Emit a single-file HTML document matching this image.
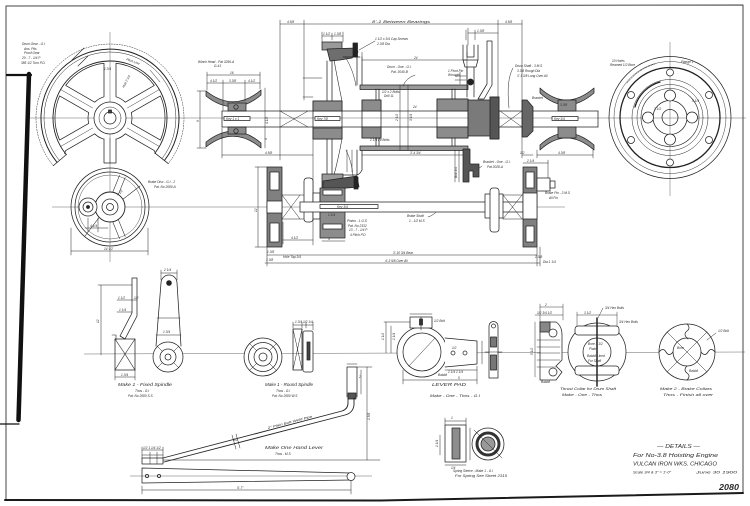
<!DOCTYPE html>
<html><head><meta charset="utf-8"><title>Details - No 3.8 Hoisting Engine</title>
<style>
html,body{margin:0;padding:0;background:#fff;width:750px;height:506px;overflow:hidden}
svg{display:block}
text{font-family:"Liberation Sans",sans-serif;font-style:italic;fill:#2a2a2a;stroke:none}
.t{font-size:3.2px}
.s{font-size:3.8px}
.m{font-size:4.6px}
</style></head><body>
<svg width="750" height="506" viewBox="0 0 750 506" xmlns="http://www.w3.org/2000/svg">
<rect width="750" height="506" fill="#fff"/>

<!-- centre lines -->
<g stroke="#666" stroke-width="0.5" fill="none">
<line x1="30" y1="118" x2="746" y2="118"/>
<line x1="110" y1="32" x2="110" y2="262"/>
<line x1="52" y1="207" x2="565" y2="207"/>
<line x1="84" y1="354" x2="745" y2="352"/>
<line x1="670" y1="42" x2="670" y2="196"/>
<line x1="130" y1="476" x2="372" y2="476"/>
</g>

<g fill="none" stroke="#222" stroke-width="0.75" stroke-linejoin="round" stroke-linecap="round">

<!-- border -->
<polyline points="6,500 6,6 743,5 743,493" stroke="#444" stroke-width="1"/>
<polyline points="5,500 380,500.5 743,493" stroke="#1a1a1a" stroke-width="2"/>
<line x1="7" y1="75" x2="31" y2="75" stroke="#111" stroke-width="2.2"/>
<line x1="29" y1="74" x2="18.5" y2="420" stroke="#111" stroke-width="4.5"/>
<line x1="0" y1="424" x2="19" y2="424" stroke="#111" stroke-width="1.2"/>

<!-- ===== big drum gear ===== -->
<path d="M53.3,165.6 A74,74 0 1 1 168.3,163.6" stroke-dasharray="1.4 1.2" stroke-width="0.5"/>
<path d="M57.1,162.4 A69,69 0 1 1 164.4,160.5" stroke-width="1"/>
<path d="M59.4,160.4 A66,66 0 1 1 162.0,158.6" stroke-width="0.5"/>
<path d="M66.3,154.6 A57,57 0 1 1 154.9,153.1" stroke-width="0.9"/>
<line x1="66.3" y1="154.6" x2="53.3" y2="165.6"/>
<line x1="154.9" y1="153.1" x2="168.3" y2="163.6"/>
<path d="M94.7,102.2 L65.7,85.4 A55,55 0 0 1 104,63.3 L104,96.8 A22,22 0 0 0 94.7,102.2 Z"/>
<path d="M116,96.8 L116,63.3 A55,55 0 0 1 154.3,85.4 L125.3,102.2 A22,22 0 0 0 116,96.8 Z"/>
<path d="M131.3,112.6 L160.4,95.9 A55,55 0 0 1 160.4,140.1 L131.3,123.4 A22,22 0 0 0 131.3,112.6 Z"/>
<path d="M88.7,123.4 L59.6,140.1 A55,55 0 0 1 59.6,95.9 L88.7,112.6 A22,22 0 0 0 88.7,123.4 Z"/>
<polyline points="125.3,133.8 154.3,150.6 155.5,153.5"/>
<polyline points="94.7,133.8 65.7,150.6 64.5,153.5"/>
<path d="M125.3,133.8 A22,22 0 0 1 116,139.2 M104,139.2 A22,22 0 0 1 94.7,133.8"/>
<polyline points="104,139 104,163 116,163 116,139"/>
<g stroke-width="0.45">
<line x1="127.3" y1="108" x2="159.4" y2="89.5"/>
<line x1="127.3" y1="128" x2="159.4" y2="146.5"/>
<line x1="92.7" y1="128" x2="60.6" y2="146.5"/>
<line x1="92.7" y1="108" x2="60.6" y2="89.5"/>
<line x1="110" y1="138" x2="110" y2="163"/>
</g>
<circle cx="110" cy="118" r="16" fill="#fff"/>
<circle cx="110" cy="118" r="11" stroke-width="0.5"/>
<circle cx="110" cy="118" r="6"/>
<rect x="108.5" y="110" width="3" height="3" fill="#444"/>
<path d="M72,60 L84,48 M78,66 L88,56" stroke-width="0.6"/>
<line x1="150" y1="70" x2="160" y2="82" stroke-width="0.5"/>

<!-- ===== small brake disc ===== -->
<circle cx="110" cy="207" r="39"/>
<circle cx="110" cy="207" r="35"/>
<circle cx="110" cy="207" r="32" stroke-width="0.4"/>
<g stroke-width="0.55">
<line x1="118.4" y1="194.2" x2="125.2" y2="177.5"/>
<line x1="112.8" y1="192.0" x2="119.6" y2="175.3"/>
<line x1="118.4" y1="219.8" x2="125.2" y2="236.5"/>
<line x1="112.8" y1="222.0" x2="119.6" y2="238.7"/>
<line x1="101" y1="215" x2="85" y2="236"/>
<line x1="122" y1="200" x2="140" y2="186"/>
</g>
<circle cx="110" cy="207" r="15" fill="#fff" stroke-width="0.9"/>
<circle cx="110" cy="207" r="8"/>
<circle cx="110" cy="207" r="3.5"/>
<circle cx="88" cy="207" r="9" fill="#fff"/>
<circle cx="88" cy="207" r="5"/>
<circle cx="88" cy="207" r="1.5" fill="#222"/>
<g stroke-width="0.5">
<line x1="71" y1="228" x2="71" y2="255"/>
<line x1="148" y1="228" x2="148" y2="255"/>
<line x1="71" y1="251" x2="148" y2="251"/>
<line x1="88" y1="218" x2="88" y2="232"/>
<line x1="98" y1="218" x2="98" y2="232"/>
<line x1="85" y1="228" x2="108" y2="228"/>
</g>

<!-- ===== left winch head ===== -->
<path d="M206,91 Q234,113 261,90 L261,95 Q234,118 206,96 Z" fill="#8c8c8c"/>
<path d="M206,147 Q234,125 261,148 L261,143 Q234,120 206,142 Z" fill="#8c8c8c"/>
<rect x="228" y="103" width="18" height="8" fill="#8c8c8c"/>
<rect x="228" y="127" width="18" height="7" fill="#8c8c8c"/>
<circle cx="236" cy="107" r="2.2"/>
<circle cx="236" cy="131" r="2.2"/>
<g stroke-width="0.5">
<line x1="207" y1="72" x2="207" y2="90"/>
<line x1="260" y1="72" x2="260" y2="89"/>
<line x1="223" y1="80" x2="223" y2="110"/>
<line x1="245" y1="80" x2="245" y2="101"/>
<line x1="207" y1="75" x2="260" y2="75"/>
<line x1="207" y1="83" x2="260" y2="83"/>
<line x1="200" y1="91" x2="200" y2="148"/>
<line x1="197" y1="91" x2="206" y2="91"/>
<line x1="197" y1="148" x2="206" y2="148"/>
<line x1="265" y1="88" x2="265" y2="148"/>
<line x1="222" y1="128" x2="222" y2="158"/>
<line x1="222" y1="155" x2="313" y2="155"/>
<line x1="313" y1="137" x2="313" y2="245"/>
</g>

<!-- ===== main shaft ===== -->
<line x1="222" y1="111" x2="598" y2="111"/>
<line x1="222" y1="127" x2="598" y2="127"/>
<line x1="222" y1="111" x2="222" y2="127"/>
<line x1="598" y1="111" x2="598" y2="127"/>
<rect x="224" y="116.5" width="26" height="4" fill="#fff"/>
<g stroke-width="0.5">
<line x1="280" y1="111" x2="308" y2="127"/>
<line x1="280" y1="127" x2="308" y2="111"/>
<line x1="500" y1="111" x2="522" y2="127"/>
<line x1="500" y1="127" x2="522" y2="111"/>
</g>

<!-- ===== drum gear section ===== -->
<rect x="322" y="42" width="20" height="8" fill="#9a9a9a"/>
<path d="M327,49 L356,48 L358,52 L352,58 L340,60 L330,61 Z" fill="#6e6e6e"/>
<rect x="353" y="43" width="4.5" height="14" fill="#222"/>
<line x1="327" y1="61" x2="327" y2="101"/>
<line x1="332" y1="61" x2="332" y2="101"/>
<path d="M334,60 Q338,82 342,101" stroke-width="0.6"/>
<path d="M346,58 Q354,72 356,86" stroke-width="0.5"/>
<rect x="313" y="101" width="29" height="38"/>
<rect x="313" y="101" width="29" height="10" fill="#8c8c8c"/>
<rect x="313" y="128" width="29" height="11" fill="#8c8c8c"/>
<rect x="315" y="116.5" width="25" height="4" fill="#fff"/>
<line x1="327" y1="139" x2="327" y2="175"/>
<line x1="332" y1="139" x2="332" y2="175"/>
<path d="M342,139 Q338,160 334,175" stroke-width="0.6"/>
<path d="M346,150 Q352,162 353,176" stroke-width="0.5"/>
<rect x="322" y="174" width="21" height="14" fill="#9a9a9a"/>
<path d="M323,181 L357,176 L359,187 L323,190 Z" fill="#555"/>
<rect x="354" y="177" width="4" height="12" fill="#222"/>
<!-- drum end walls -->
<path d="M343,57 L360,57 M357,57 L357,85 M362,57 L362,85"/>
<path d="M343,175 L357,175 M357,150 L357,175 M362,150 L362,170 Q360,174 357,175"/>
<!-- drum shell -->
<rect x="360" y="85" width="108" height="4.5" fill="#9a9a9a"/>
<rect x="360" y="146" width="108" height="4.5" fill="#9a9a9a"/>
<rect x="362" y="100" width="19" height="38"/>
<rect x="362" y="100" width="19" height="11" fill="#8c8c8c"/>
<rect x="362" y="127" width="19" height="11" fill="#8c8c8c"/>
<path d="M376,89 L376,100 M379,89 L379,100 M376,138 L376,146 M379,138 L379,146"/>
<rect x="437" y="99" width="31" height="39"/>
<rect x="437" y="99" width="31" height="12" fill="#8c8c8c"/>
<rect x="437" y="127" width="31" height="11" fill="#8c8c8c"/>
<path d="M452,89 L452,99 M455,89 L455,99 M452,138 L452,146 M455,138 L455,146"/>
<g stroke-width="0.5">
<line x1="400" y1="85" x2="400" y2="150"/>
<line x1="408" y1="85" x2="408" y2="150"/>
<line x1="362" y1="60" x2="467" y2="60"/>
<line x1="362" y1="155" x2="470" y2="155"/>
<line x1="362" y1="52" x2="362" y2="57"/>
<line x1="467" y1="52" x2="467" y2="85"/>
</g>

<!-- clutch and lever -->
<path d="M468,100 L490,100 L490,97 L499,97 L499,139 L490,139 L490,136 L468,136 Z" fill="#7a7a7a"/>
<rect x="490" y="97" width="9" height="42" fill="#555"/>
<path d="M478,99 L484,99 L492,85 L492,41 L487,41 L487,84 Z" fill="#fff"/>
<path d="M463,45 L463,60 L478,60 L478,45 M467,45 L467,57 L474,57 L474,45 M463,60 L465,67 L476,67 L478,60"/>
<path d="M467,67 L467,97 M474,67 L474,97"/>
<circle cx="470.5" cy="82" r="3" fill="#222"/>
<path d="M455,76 L466,76 M455,80 L466,80 M460,72 L460,84" stroke-width="0.5"/>
<path d="M466,30 L466,40 M475,30 L475,40" stroke-width="0.5"/>
<!-- right bearing bracket -->
<path d="M522,100 L527,100 L533,107 L533,131 L527,137 L522,137 Z" fill="#666"/>
<!-- right winch head -->
<path d="M540,88 Q566,112 594,88 L594,93 Q566,117 540,93 Z" fill="#8c8c8c"/>
<path d="M540,150 Q566,126 594,150 L594,145 Q566,121 540,145 Z" fill="#8c8c8c"/>
<rect x="558" y="100" width="18" height="11" fill="#8c8c8c"/>
<rect x="558" y="127" width="18" height="11" fill="#8c8c8c"/>
<rect x="552" y="116.5" width="26" height="4" fill="#fff"/>

<!-- main dims -->
<g stroke-width="0.5">
<line x1="280" y1="20" x2="280" y2="160"/>
<line x1="304" y1="20" x2="304" y2="100"/>
<line x1="498" y1="20" x2="498" y2="97"/>
<line x1="522" y1="20" x2="522" y2="158"/>
<line x1="280" y1="24" x2="522" y2="24"/>
<line x1="468" y1="33" x2="498" y2="33"/>
<line x1="468" y1="28" x2="468" y2="45"/>
<line x1="322" y1="32" x2="322" y2="42"/>
<line x1="322" y1="36" x2="343" y2="36"/>
<line x1="332" y1="33" x2="332" y2="40"/>
<line x1="343" y1="32" x2="343" y2="42"/>
<line x1="303" y1="78" x2="322" y2="78"/>
<line x1="303" y1="97" x2="313" y2="97"/>
<line x1="522" y1="155" x2="533" y2="155"/>
<line x1="537" y1="155" x2="593" y2="155"/>
<line x1="537" y1="150" x2="537" y2="158"/>
<line x1="593" y1="150" x2="593" y2="158"/>
<line x1="347" y1="150" x2="347" y2="172"/>
<line x1="352" y1="150" x2="352" y2="172"/>
<path d="M375,41 L359,50" />
<path d="M415,75 Q406,78 403,86"/>
<path d="M513,68 Q506,80 509,108"/>
<path d="M482,166 L474,172"/>
<path d="M428,217 Q434,215 437,211"/>
</g>

<!-- ===== lower shaft assembly ===== -->
<g stroke-width="0.5">
<line x1="258" y1="167" x2="258" y2="247"/>
<line x1="255" y1="167" x2="267" y2="167"/>
<line x1="255" y1="247" x2="267" y2="247"/>
<line x1="267" y1="247" x2="267" y2="266"/>
<line x1="537" y1="247" x2="537" y2="266"/>
<line x1="540" y1="247" x2="540" y2="266"/>
<line x1="267" y1="255" x2="537" y2="255"/>
<line x1="265" y1="263" x2="540" y2="263"/>
<line x1="283" y1="240" x2="313" y2="240"/>
<line x1="322" y1="241" x2="345" y2="241"/>
<line x1="283" y1="222" x2="283" y2="244"/>
<line x1="523" y1="163" x2="548" y2="163"/>
<line x1="548" y1="160" x2="548" y2="178"/>
<line x1="455" y1="150" x2="455" y2="182"/>
<line x1="459" y1="150" x2="459" y2="182"/>
</g>
<rect x="267" y="167" width="15" height="80" fill="#808080"/>
<rect x="270" y="172" width="9" height="18" fill="#fff"/>
<rect x="270" y="223" width="9" height="19" fill="#fff"/>
<rect x="267" y="201" width="15" height="12" fill="#fff"/>
<path d="M282,195 L305,195 M282,219 L305,219 M282,195 L300,219 M282,219 L300,195" stroke-width="0.5"/>
<rect x="304" y="178" width="9" height="44" rx="3" fill="#fff"/>
<rect x="313" y="193" width="7" height="26" fill="#fff"/>
<rect x="320" y="188" width="25" height="50" fill="#8c8c8c"/>
<rect x="323" y="190" width="19" height="5" fill="#fff"/>
<rect x="323" y="224" width="19" height="5" fill="#fff"/>
<rect x="300" y="202" width="223" height="10" fill="#fff"/>
<rect x="320" y="204.5" width="58" height="4" fill="#fff"/>
<rect x="485" y="194" width="18" height="24" fill="#fff"/>
<rect x="490" y="188" width="9" height="44" rx="3" fill="#fff"/>
<path d="M503,195 L522,219 M503,219 L522,195 M503,195 L523,195 M503,219 L523,219" stroke-width="0.5"/>
<rect x="523" y="167" width="14" height="80" fill="#808080"/>
<rect x="526" y="172" width="8" height="16" fill="#fff"/>
<rect x="526" y="226" width="8" height="16" fill="#fff"/>
<rect x="523" y="193" width="14" height="26" fill="#fff"/>
<rect x="537" y="178" width="13" height="13" fill="#fff"/>
<rect x="550" y="181" width="5" height="7"/>
<!-- bracket one -->
<path d="M463,149 L470,149 L470,164 L479,164 L479,177 L473,177 L473,171 L469,171 L469,182 L463,182 Z" fill="#555"/>

<!-- ===== right flange ===== -->
<circle cx="670" cy="117.5" r="61"/>
<circle cx="670" cy="117.5" r="56" stroke-width="0.45"/>
<circle cx="670" cy="117.5" r="50" stroke-width="1.3"/>
<circle cx="670" cy="117.5" r="38" stroke-width="0.5"/>
<circle cx="670" cy="117.5" r="33" stroke-width="0.5"/>
<circle cx="670" cy="117.5" r="29" stroke-width="0.6"/>
<circle cx="670" cy="117.5" r="17"/>
<circle cx="670" cy="117.5" r="8"/>
<path d="M660,82 A36,36 0 0 0 635,107" stroke-width="1.3"/>
<path d="M627,83 A56,56 0 0 1 655,64" stroke-width="0.5" stroke-dasharray="2 1"/>
<g fill="#fff">
<circle cx="670" cy="72.5" r="3.5"/>
<circle cx="709" cy="95" r="3.5"/>
<circle cx="709" cy="140" r="3.5"/>
<circle cx="670" cy="162.5" r="3.5"/>
<circle cx="631" cy="140" r="3.5"/>
<circle cx="631" cy="95" r="3.5"/>
<circle cx="670" cy="95.5" r="5.5"/>
<circle cx="692" cy="117.5" r="5.5"/>
<circle cx="670" cy="139.5" r="5.5"/>
<circle cx="648" cy="117.5" r="5.5"/>
</g>

<!-- ===== fixed spindle ===== -->
<path d="M132,278 L137,278 L137,316 L125,339 L120,336 L132,313 Z" fill="#fff"/>
<rect x="115" y="339" width="20" height="31"/>
<path d="M115,339 L125,354 L135,339 M115,370 L125,354 L135,370" stroke-width="0.6"/>
<path d="M112,335 L116,335 L116,340" stroke-width="0.6"/>
<g stroke-width="0.5">
<line x1="101" y1="285" x2="101" y2="355"/>
<line x1="98" y1="285" x2="132" y2="285"/>
<line x1="117" y1="300" x2="137" y2="300"/>
<line x1="117" y1="312" x2="132" y2="312"/>
<line x1="115" y1="370" x2="115" y2="380"/>
<line x1="135" y1="370" x2="135" y2="380"/>
<line x1="115" y1="377" x2="135" y2="377"/>
<line x1="161" y1="273" x2="177" y2="273"/>
<line x1="161" y1="270" x2="161" y2="280"/>
<line x1="177" y1="270" x2="177" y2="280"/>
</g>
<path d="M161,283 A8,8 0 0 1 177,283 L181,346 M161,283 L156,346" fill="#fff"/>
<circle cx="169" cy="283" r="2.4" fill="#222"/>
<line x1="157" y1="318" x2="180" y2="318" stroke-width="0.5"/>
<line x1="156" y1="335" x2="181" y2="335" stroke-width="0.5"/>
<circle cx="168" cy="357" r="15" fill="#fff"/>
<circle cx="168" cy="357" r="8"/>
<circle cx="168" cy="357" r="3"/>
<path d="M173.7,351.3 L178.6,346.4 M162.3,351.3 L157.4,346.4 M173.7,362.7 L178.6,367.6 M162.3,362.7 L157.4,367.6" stroke-width="0.5"/>

<!-- ===== round spindle ===== -->
<circle cx="263" cy="357" r="19" fill="#fff"/>
<circle cx="263" cy="357" r="14.5"/>
<circle cx="263" cy="357" r="9"/>
<circle cx="263" cy="357" r="4"/>
<path d="M269.4,350.6 L276.4,343.6 M256.6,350.6 L249.6,343.6 M269.4,363.4 L276.4,370.4 M256.6,363.4 L249.6,370.4" stroke-width="0.5"/>
<rect x="293" y="329" width="9" height="41"/>
<path d="M293,329 L297.5,349 L302,329 M293,370 L297.5,349 L302,370" stroke-width="0.5"/>
<rect x="303" y="331" width="10" height="41" rx="2" fill="#fff"/>
<rect x="307" y="342" width="3" height="18" fill="#444"/>
<g stroke-width="0.5">
<line x1="293" y1="325" x2="313" y2="325"/>
<line x1="293" y1="322" x2="293" y2="328"/>
<line x1="302" y1="322" x2="302" y2="328"/>
<line x1="306" y1="322" x2="306" y2="328"/>
<line x1="313" y1="322" x2="313" y2="330"/>
</g>

<!-- ===== hand lever ===== -->
<path d="M347,367 L357,367 M347,367 L347,397 M357,367 L357,397" fill="#fff"/>
<rect x="348" y="393" width="8" height="6" fill="#555"/>
<path d="M348,398 L348,403 Q348,409 342,411 L163,458" stroke-width="0.9"/>
<path d="M354,398 L354,405 Q353,413 345,415 L164,462" stroke-width="0.9"/>
<rect x="142" y="458" width="21" height="6" fill="#fff"/>
<path d="M150,458 L150,464 M157,458 L157,464" stroke-width="0.5"/>
<path d="M142,468 L351,473 M142,483 L351,480 M142,468 L142,483"/>
<circle cx="351" cy="476.5" r="4" fill="#fff"/>
<circle cx="147" cy="476" r="1.6"/>
<circle cx="159" cy="476" r="1.6"/>
<g stroke-width="0.5">
<line x1="142" y1="450" x2="163" y2="450"/>
<line x1="142" y1="455" x2="163" y2="455"/>
<line x1="142" y1="447" x2="142" y2="458"/>
<line x1="163" y1="447" x2="163" y2="458"/>
<line x1="150" y1="452" x2="150" y2="458"/>
<line x1="157" y1="452" x2="157" y2="458"/>
<line x1="142" y1="486" x2="142" y2="494"/>
<line x1="351" y1="481" x2="351" y2="494"/>
<line x1="142" y1="490" x2="351" y2="490"/>
<line x1="367" y1="367" x2="367" y2="460"/>
<line x1="357" y1="367" x2="372" y2="367"/>
<line x1="163" y1="460" x2="380" y2="460"/>
<line x1="361" y1="370" x2="361" y2="394"/>
<line x1="347" y1="364" x2="357" y2="364"/>
<line x1="232" y1="435" x2="236" y2="449"/>
<line x1="236" y1="434" x2="240" y2="448"/>
</g>

<!-- ===== lever pad ===== -->
<circle cx="422" cy="352" r="25" fill="#fff"/>
<circle cx="422" cy="352" r="19"/>
<line x1="409" y1="366" x2="435" y2="338" stroke-width="0.5"/>
<rect x="410" y="317" width="22" height="11" fill="#fff"/>
<line x1="421" y1="317" x2="421" y2="330" stroke-width="0.6"/>
<rect x="419.5" y="319" width="3" height="6" fill="#333"/>
<path d="M445,338 L477,341 L477,364 L445,367" fill="#fff"/>
<circle cx="453" cy="353" r="2"/>
<circle cx="465" cy="353" r="2"/>
<path d="M489,378 L489,326 A4.5,4.5 0 0 1 498,326 L498,378 Z" fill="#fff"/>
<circle cx="493.5" cy="326" r="2"/>
<rect x="490.5" y="337" width="6" height="10" fill="#777"/>
<rect x="490.5" y="355" width="6" height="15" fill="#777"/>
<g stroke-width="0.5">
<line x1="386" y1="322" x2="386" y2="353"/>
<line x1="391" y1="326" x2="391" y2="353"/>
<line x1="384" y1="322" x2="410" y2="322"/>
<line x1="403" y1="380" x2="477" y2="380"/>
<line x1="403" y1="370" x2="403" y2="384"/>
<line x1="477" y1="366" x2="477" y2="384"/>
<line x1="445" y1="370" x2="477" y2="370"/>
<line x1="482" y1="341" x2="482" y2="364"/>
<line x1="410" y1="314" x2="432" y2="314"/>
<line x1="485" y1="352" x2="502" y2="352"/>
</g>

<!-- ===== thrust collar ===== -->
<path d="M540,322 L556,322 Q562,326 562,335 L562,360 L556,366 L562,372 L556,380 L540,380 Z" fill="#fff"/>
<rect x="540" y="322" width="10" height="10" fill="#888"/>
<circle cx="553" cy="333" r="4" fill="#fff"/>
<circle cx="553" cy="372" r="4" fill="#fff"/>
<g stroke-width="0.45">
<line x1="535" y1="322" x2="535" y2="377"/>
<line x1="537" y1="340" x2="560" y2="340"/>
<line x1="537" y1="347" x2="560" y2="347"/>
<line x1="537" y1="353" x2="560" y2="353"/>
<line x1="537" y1="360" x2="560" y2="360"/>
<line x1="537" y1="367" x2="556" y2="367"/>
<line x1="540" y1="307" x2="563" y2="307"/>
<line x1="535" y1="315" x2="563" y2="315"/>
<line x1="540" y1="304" x2="540" y2="322"/>
<line x1="563" y1="304" x2="563" y2="320"/>
<line x1="577" y1="312" x2="577" y2="326"/>
<line x1="617" y1="312" x2="617" y2="326"/>
<line x1="577" y1="315" x2="617" y2="315"/>
<path d="M603,308 L598,318"/>
</g>
<circle cx="597" cy="352" r="29" fill="#fff"/>
<rect x="575" y="326" width="44" height="9" rx="3" fill="#fff"/>
<rect x="575" y="366" width="44" height="9" rx="3" fill="#fff"/>
<circle cx="597" cy="352" r="14"/>
<line x1="597" y1="318" x2="597" y2="386" stroke-width="1.5"/>

<!-- ===== brake collars ===== -->
<circle cx="687" cy="352" r="28" fill="#fff"/>
<circle cx="687" cy="352" r="14"/>
<path d="M667,332 L707,372 M707,332 L667,372" stroke-width="0.5"/>
<path d="M687,324 Q691,328 687,331 Q683,334 687,338 Q689,340 687,338" stroke-width="0.7"/>
<path d="M687,366 Q683,370 687,373 Q691,376 687,380"/>
<path d="M659,352 Q663,347 666,352 Q669,357 673,352"/>
<path d="M701,352 Q705,357 708,352 Q711,347 715,352"/>
<path d="M716,333 L707,340" stroke-width="0.5"/>

<!-- ===== spring sleeve ===== -->
<rect x="445" y="425" width="21" height="37" fill="#fff"/>
<rect x="452" y="428" width="8" height="31" fill="#8c8c8c"/>
<g stroke-width="0.5">
<line x1="445" y1="421" x2="466" y2="421"/>
<line x1="445" y1="418" x2="445" y2="425"/>
<line x1="466" y1="418" x2="466" y2="425"/>
<line x1="445" y1="465" x2="466" y2="465"/>
<line x1="440" y1="435" x2="440" y2="455"/>
<line x1="470" y1="428" x2="470" y2="460"/>
</g>
<circle cx="488" cy="444" r="16" fill="#fff"/>
<circle cx="488" cy="444" r="11" stroke="#333" stroke-width="3"/>
<circle cx="488" cy="444" r="7" fill="#999"/>
<line x1="474" y1="430" x2="502" y2="458" stroke-width="0.5"/>
</g>

<!-- ===================== TEXT ===================== -->
<g>
<text class="t" x="22" y="45">Drum Gear - G.I</text>
<text class="t" x="24" y="50">Ans. Pits</text>
<text class="t" x="24" y="54">Proof Gear</text>
<text class="t" x="22" y="59">20 - 7 - 1/4 P</text>
<text class="t" x="21" y="64">385 1/2 Turn P.D.</text>
<text class="t" x="126" y="60" transform="rotate(20 126 60)">Pitch Line</text>
<text class="t" x="124" y="88" transform="rotate(-62 124 88)">Hub 2 1/2</text>
<text class="t" x="104" y="70">1 3/4</text>
<text class="t" x="148" y="183">Brake Disc - G.I - 2</text>
<text class="t" x="154" y="188">Pat. No 2080-A</text>
<text class="t" x="104" y="250">14 1/2</text>
<text class="t" x="118" y="196" transform="rotate(-45 118 196)">4 1/2</text>
<text class="t" x="90" y="227">4 1/4</text>

<text class="t" x="198" y="63">Winch Head - Pat 3296-A</text>
<text class="t" x="214" y="67">G-41</text>
<text class="t" x="230" y="74">16</text>
<text class="t" x="210" y="82">4 1/2</text>
<text class="t" x="229" y="82">3 3/8</text>
<text class="t" x="248" y="82">4 1/2</text>
<text class="t" x="199" y="122" transform="rotate(-90 199 122)">9</text>
<text class="t" x="268" y="124" transform="rotate(-90 268 124)">4 1/2</text>
<text class="t" x="265" y="154">4 5/8</text>
<text class="t" x="226" y="120">Key 1 x 1</text>
<text class="t" x="317" y="120">Key 7/8</text>
<text class="t" x="554" y="120">Key 3/4</text>
<text class="t" x="328" y="216">1 1/4</text>
<text class="t" x="267" y="140" transform="rotate(-90 267 140)">4</text>

<text class="s" x="372" y="23" textLength="58" lengthAdjust="spacingAndGlyphs">8'-1 Between Bearings</text>
<text class="t" x="287" y="23">4 5/8</text>
<text class="t" x="505" y="23">4 5/8</text>
<text class="t" x="477" y="32">1 3/8</text>
<text class="t" x="323" y="35">1 1/2</text>
<text class="t" x="334" y="35">1 3/8</text>
<text class="t" x="375" y="40">1 1/2 x 3/4 Cap Screws</text>
<text class="t" x="377" y="45">2 3/8 Dia</text>
<text class="t" x="414" y="59">24</text>
<text class="t" x="387" y="68">Drum - One - G.I</text>
<text class="t" x="391" y="73">Pat. 3040-B</text>
<text class="t" x="382" y="93">1/2 x 2 Bolts</text>
<text class="t" x="384" y="97">Drill 11</text>
<text class="t" x="413" y="108">24</text>
<text class="t" x="398" y="121" transform="rotate(-90 398 121)">2 1/2</text>
<text class="t" x="412" y="121" transform="rotate(-90 412 121)">3 1/4</text>
<text class="t" x="370" y="141">1 1/4 Fit Bolts</text>
<text class="t" x="410" y="154">3'-4 3/4</text>
<text class="t" x="448" y="72">1 Pivot Pin</text>
<text class="t" x="448" y="76">Wrought</text>
<text class="t" x="515" y="67">Drum Shaft - 3 M.S</text>
<text class="t" x="517" y="72">3 3/8 Rough Dia</text>
<text class="t" x="517" y="77">3' 1 3/8 Long Over All</text>
<text class="t" x="532" y="99">Bracket</text>
<text class="t" x="560" y="106">3 3/8</text>
<text class="t" x="520" y="154">1/2</text>
<text class="t" x="558" y="154">4 3/8</text>
<text class="t" x="612" y="62">10 Holes</text>
<text class="t" x="610" y="66">Reamed 1/2 Bore</text>
<text class="t" x="681" y="63">Flange 1</text>
<text class="t" x="692" y="102">5 1/4</text>
<text class="t" x="654" y="110">3 1/2</text>

<text class="t" x="483" y="163">Bracket - One - G.I</text>
<text class="t" x="487" y="168">Pat 3028-A</text>
<text class="t" x="457" y="178" transform="rotate(-90 457 178)">Bolt 3/4</text>
<text class="t" x="545" y="194">Brake Pin - 3 M.S</text>
<text class="t" x="549" y="199">All Fin</text>
<text class="t" x="527" y="162">2 1/4</text>
<text class="t" x="347" y="222">Pinion - 1 G.S</text>
<text class="t" x="348" y="227">Pat. No 2332</text>
<text class="t" x="349" y="231">13 - 7 - 1/4 P</text>
<text class="t" x="350" y="236">4 Pitch P.D</text>
<text class="t" x="407" y="217">Brake Shaft</text>
<text class="t" x="409" y="222">1 - 1/2 M.S</text>
<text class="t" x="337" y="207.8">Key 3/4</text>
<text class="t" x="257" y="212" transform="rotate(-90 257 212)">12</text>
<text class="t" x="291" y="239">4 1/2</text>
<text class="t" x="328" y="240">4</text>
<text class="t" x="267" y="253">1 3/8</text>
<text class="t" x="266" y="261">1 3/8</text>
<text class="t" x="283" y="258">Hole Tap 3/4</text>
<text class="t" x="393" y="254">3'-10 3/4 Bear</text>
<text class="t" x="385" y="262">4'-3 5/8 Over All</text>
<text class="t" x="535" y="258">1 3/8</text>
<text class="t" x="543" y="263">Dia 1 1/4</text>

<text class="t" x="99" y="323" transform="rotate(-90 99 323)">12</text>
<text class="t" x="118" y="299">1 1/2</text>
<text class="t" x="134" y="299">1/2</text>
<text class="t" x="119" y="311">1 1/4</text>
<text class="t" x="121" y="376">1 3/4</text>
<text class="t" x="164" y="271">2 1/4</text>
<text class="t" x="163" y="333">1 3/4</text>
<text class="m" x="118" y="386" textLength="54" lengthAdjust="spacingAndGlyphs">Make 1 - Fixed Spindle</text>
<text class="t" x="135" y="392">Thos - G.I</text>
<text class="t" x="128" y="397">Pat. No 2080 S.S</text>
<text class="t" x="295" y="323">1 3/4 1/2 1/4</text>
<text class="m" x="265" y="386" textLength="48" lengthAdjust="spacingAndGlyphs">Make 1 - Round Spindle</text>
<text class="t" x="276" y="392">Thos - G.I</text>
<text class="t" x="272" y="397">Pat. No 2080 W.S</text>

<text class="t" x="268" y="429" transform="rotate(-14.7 268 429)" textLength="46" lengthAdjust="spacingAndGlyphs">2" Plain Butt Weld Pipe</text>
<text class="t" x="233" y="441">1/2</text>
<text class="m" x="265" y="449" textLength="58" lengthAdjust="spacingAndGlyphs">Make One Hand Lever</text>
<text class="t" x="275" y="455">Thos - M.S</text>
<text class="t" x="370" y="420" transform="rotate(-90 370 420)">1 5/8</text>
<text class="t" x="359" y="378">2</text>
<text class="t" x="143" y="449">1/2 1 1/4 1/2</text>
<text class="t" x="237" y="489">5'-7"</text>

<text class="t" x="384" y="340" transform="rotate(-90 384 340)">1 1/2</text>
<text class="t" x="395" y="340" transform="rotate(-90 395 340)">1 1/4</text>
<text class="t" x="434" y="322">1/2 Bolt</text>
<text class="t" x="452" y="349">1/2</text>
<text class="t" x="448" y="373">1 1/4 1 1/4</text>
<text class="t" x="438" y="376">Babbit</text>
<text class="t" x="458" y="379">5</text>
<text class="m" x="432" y="386" textLength="34" lengthAdjust="spacingAndGlyphs">LEVER PAD</text>
<text class="t" x="430" y="397" textLength="50" lengthAdjust="spacingAndGlyphs">Make - One - Thos - G.I</text>

<text class="t" x="605" y="309">3/4 Hex Bolts</text>
<text class="t" x="619" y="323">3/4 Hex Bolts</text>
<text class="t" x="584" y="314">3 1/2</text>
<text class="t" x="545" y="306">2</text>
<text class="t" x="537" y="314">1/2 3/4 1/2</text>
<text class="t" x="533" y="355" transform="rotate(-90 533 355)">5 1/2</text>
<text class="t" x="588" y="345">Bore 3 1/2</text>
<text class="t" x="589" y="350">Plain</text>
<text class="t" x="587" y="357">Babbit Lined</text>
<text class="t" x="588" y="362">For Shaft</text>
<text class="t" x="541" y="383">Babbit</text>
<text class="s" x="560" y="390" textLength="56" lengthAdjust="spacingAndGlyphs">Thrust Collar for Drum Shaft</text>
<text class="s" x="562" y="396" textLength="40" lengthAdjust="spacingAndGlyphs">Make - One - Thos</text>

<text class="t" x="718" y="332">1/2 Bolt</text>
<text class="t" x="677" y="349">Bore</text>
<text class="t" x="689" y="372">Babbit</text>
<text class="s" x="660" y="390" textLength="52" lengthAdjust="spacingAndGlyphs">Make 2 - Brake Collars</text>
<text class="t" x="663" y="396" textLength="50" lengthAdjust="spacingAndGlyphs">Thos - Finish all over</text>

<text class="t" x="451" y="419">1</text>
<text class="t" x="438" y="447" transform="rotate(-90 438 447)">1 1/4</text>
<text class="t" x="451" y="469">1/4</text>
<text class="s" x="453" y="472" textLength="40" lengthAdjust="spacingAndGlyphs">Spring Sleeve - Make 1 - G.I</text>
<text class="t" x="455" y="477" textLength="52" lengthAdjust="spacingAndGlyphs">For Spring See Sheet 2315</text>

<text x="657" y="448" style="font-size:5.5px" textLength="43" lengthAdjust="spacingAndGlyphs">— DETAILS —</text>
<text x="633" y="457" style="font-size:5px" textLength="85" lengthAdjust="spacingAndGlyphs">For No-3.8 Hoisting Engine</text>
<text x="633" y="465.5" style="font-size:5px" textLength="84" lengthAdjust="spacingAndGlyphs">VULCAN IRON WKS.  CHICAGO</text>
<text class="s" x="633" y="473.5" textLength="38" lengthAdjust="spacingAndGlyphs">Scale 3/4 &amp; 3" = 1'-0"</text>
<text class="s" x="696" y="473.5" textLength="41" lengthAdjust="spacingAndGlyphs">June 30 1900</text>
<text x="719" y="490" style="font-size:8.5px;font-weight:bold" textLength="20" lengthAdjust="spacingAndGlyphs">2080</text>
</g>
</svg>
</body></html>
